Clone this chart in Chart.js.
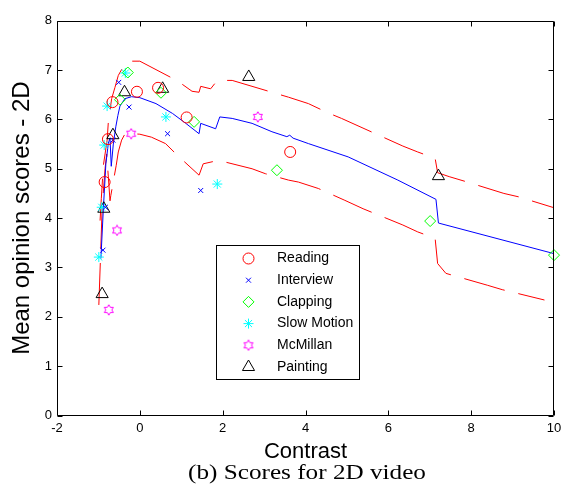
<!DOCTYPE html>
<html>
<head>
<meta charset="utf-8">
<script src="https://cdn.jsdelivr.net/npm/chart.js@4.4.0/dist/chart.umd.min.js"></script>
<style>
  html, body { margin: 0; padding: 0; background: #fff; }
  #wrap { position: relative; width: 562px; height: 496px; overflow: hidden; }
  #caption {
    position: absolute; left: 307px; top: 462px;
    font-family: "Liberation Serif", "Times New Roman", serif;
    font-size: 20px; line-height: 1; color: #000; white-space: nowrap;
    transform: translateX(-50%) scaleX(1.26);
  }
</style>
</head>
<body>
<div id="wrap">
  <canvas id="chart" width="562" height="496"></canvas>
  <div id="caption">(b) Scores for 2D video</div>
</div>
<script>
// Subjective scores per test sequence (contrast vs. mean opinion score)
const readingX = [-0.85, -0.77, -0.66, -0.07, 0.44, 1.13, 3.63];
const readingY = [4.73, 5.60, 6.35, 6.56, 6.64, 6.04, 5.34];

const interviewX = [-0.89, -0.83, -0.65, -0.51, -0.26, 0.67, 1.47];
const interviewY = [3.35, 4.22, 5.58, 6.75, 6.25, 5.71, 4.56];

const clappingX = [-0.48, -0.29, 0.51, 1.31, 3.31, 7.01, 10.0];
const clappingY = [6.40, 6.95, 6.54, 5.95, 4.97, 3.94, 3.25];

const slowMotionX = [-0.99, -0.92, -0.86, -0.79, -0.35, 0.63, 1.87];
const slowMotionY = [3.21, 4.22, 5.48, 6.27, 6.94, 6.05, 4.69];

const mcmillanX = [-0.75, -0.55, -0.21, 2.85];
const mcmillanY = [2.14, 3.75, 5.71, 6.05];

const paintingX = [-0.91, -0.87, -0.65, -0.37, 0.55, 2.63, 7.21];
const paintingY = [2.46, 4.19, 5.68, 6.55, 6.62, 6.86, 4.85];

// Fitted mean score curve
const fitX = [-0.94, -0.88, -0.82, -0.76, -0.72, -0.69, -0.64, -0.58, -0.53, -0.48, -0.36, -0.2, 0,
  0.39, 0.79, 1.11, 1.43, 1.47, 1.83, 1.93, 2.23, 2.71, 3.19, 3.55, 3.62, 3.7, 4.07, 5.03, 6.23,
  7.15, 7.21, 10.0];
const fitY = [3.18, 4.2, 5.1, 5.52, 5.62, 5.05, 5.5, 5.85, 6.08, 6.27, 6.42, 6.46, 6.44,
  6.32, 6.12, 5.92, 5.71, 5.92, 5.81, 6.05, 6.02, 5.92, 5.75, 5.65, 5.68, 5.62, 5.51, 5.24, 4.77,
  4.38, 3.9, 3.28];

// Upper and lower confidence bounds
const upperX = [-0.96, -0.93, -0.88, -0.79, -0.76, -0.68, -0.6, -0.52, -0.36, -0.2, 0, 0.91, 1.26,
  1.43, 1.47, 1.71, 1.87, 2.23, 3.19, 3.59, 4.07, 4.55, 4.87, 6.35, 6.71, 7.13, 7.19, 7.47, 7.83,
  8.79, 9.15, 10.0];
const upperY = [3.95, 4.4, 5.07, 5.58, 5.95, 6.42, 6.65, 6.89, 7.13, 7.18, 7.18, 6.78, 6.57,
  6.55, 6.67, 6.62, 6.79, 6.79, 6.55, 6.45, 6.32, 6.13, 6.02, 5.46, 5.34, 5.21, 4.92, 4.84, 4.75,
  4.5, 4.43, 4.21];

const lowerX = [-0.99, -0.95, -0.91, -0.84, -0.8, -0.72, -0.7, -0.57, -0.52, -0.44, -0.35, 0, 0.28,
  0.62, 0.91, 1.43, 1.53, 1.9, 2.71, 3.03, 3.59, 3.83, 4.31, 4.95, 5.39, 6.35, 6.71, 7.13, 7.19,
  7.39, 8.39, 8.75, 9.77];
const lowerY = [2.24, 3.2, 4.2, 5.0, 5.3, 4.35, 4.46, 5.07, 5.34, 5.58, 5.72, 5.7, 5.64,
  5.51, 5.27, 4.87, 5.1, 5.17, 5.0, 4.9, 4.77, 4.73, 4.6, 4.36, 4.19, 3.86, 3.72, 3.59, 3.08,
  2.88, 2.64, 2.55, 2.34];

const xTicks = { min: -2, max: 10, step: 2 };
const yTicks = { min: 0, max: 8, step: 1 };

const FONT = '"Liberation Sans", Arial, Helvetica, sans-serif';

const toPoints = (xs, ys) => xs.map((x, i) => ({ x: x, y: ys[i] }));

// six-pointed star outline used for the McMillan marker
function makeHexagram(size, color) {
  const c = document.createElement('canvas');
  c.width = size;
  c.height = size;
  const g = c.getContext('2d');
  const cx = size / 2, cy = size / 2;
  const R = size / 2 - 0.8, r = R / Math.sqrt(3);
  g.strokeStyle = color;
  g.lineWidth = 1;
  g.beginPath();
  for (let k = 0; k < 12; k++) {
    const a = -Math.PI / 2 + k * Math.PI / 6;
    const rad = k % 2 === 0 ? R : r;
    const px = cx + rad * Math.cos(a), py = cy + rad * Math.sin(a);
    if (k === 0) g.moveTo(px, py); else g.lineTo(px, py);
  }
  g.closePath();
  g.stroke();
  return c;
}

const hexagram = makeHexagram(12, '#ff00ff');

function markerSet(label, xs, ys, color, style, radius) {
  return {
    label: label,
    data: toPoints(xs, ys),
    showLine: false,
    pointStyle: style,
    pointRadius: radius,
    pointHoverRadius: radius,
    pointBorderColor: color,
    pointBackgroundColor: 'rgba(0,0,0,0)',
    pointBorderWidth: 1,
    borderColor: color,
    clip: false
  };
}

function curveSet(label, xs, ys, color, dash) {
  return {
    label: label,
    data: toPoints(xs, ys),
    showLine: true,
    pointRadius: 0,
    borderColor: color,
    borderWidth: 1,
    borderDash: dash,
    tension: 0,
    fill: false,
    isCurve: true
  };
}

// box around the plot with inward ticks on all four sides
const axesBox = {
  id: 'axesBox',
  afterDatasetsDraw(chart) {
    const { ctx, chartArea: a, scales } = chart;
    const l = Math.round(a.left) + 0.5, r = Math.round(a.right) - 0.5;
    const t = Math.round(a.top) + 0.5, b = Math.round(a.bottom) - 0.5;
    const len = 5;
    ctx.save();
    ctx.strokeStyle = '#000';
    ctx.lineWidth = 1;
    ctx.beginPath();
    ctx.rect(l, t, r - l, b - t);
    scales.x.ticks.forEach((tk) => {
      const px = Math.round(scales.x.getPixelForValue(tk.value)) + 0.5;
      ctx.moveTo(px, b); ctx.lineTo(px, b - len);
      ctx.moveTo(px, t); ctx.lineTo(px, t + len);
    });
    scales.y.ticks.forEach((tk) => {
      const py = Math.round(scales.y.getPixelForValue(tk.value)) + 0.5;
      ctx.moveTo(l, py); ctx.lineTo(l + len, py);
      ctx.moveTo(r, py); ctx.lineTo(r - len, py);
    });
    ctx.stroke();
    ctx.restore();
  }
};

// boxed legend inside the plot area, markers only
const markerLegend = {
  id: 'markerLegend',
  afterDraw(chart) {
    const ctx = chart.ctx;
    const box = { left: 216.5, top: 245.5, width: 143, height: 134 };
    const rowTop = 258.5, rowStep = 21.7;
    ctx.save();
    ctx.fillStyle = '#fff';
    ctx.strokeStyle = '#000';
    ctx.lineWidth = 1;
    ctx.fillRect(box.left, box.top, box.width, box.height);
    ctx.strokeRect(box.left, box.top, box.width, box.height);
    ctx.font = '14px ' + FONT;
    ctx.textBaseline = 'middle';
    ctx.textAlign = 'left';
    chart.data.datasets.filter((d) => !d.isCurve).forEach((d, i) => {
      const y = rowTop + i * rowStep;
      ctx.strokeStyle = d.pointBorderColor;
      ctx.fillStyle = 'rgba(0,0,0,0)';
      ctx.lineWidth = 1;
      Chart.helpers.drawPoint(ctx, {
        pointStyle: d.pointStyle,
        radius: d.pointRadius,
        rotation: 0,
        borderWidth: 1
      }, 248.5, y);
      ctx.fillStyle = '#000';
      ctx.fillText(d.label, 277, y);
    });
    ctx.restore();
  }
};

const ctx = document.getElementById('chart').getContext('2d');

new Chart(ctx, {
  type: 'scatter',
  data: {
    datasets: [
      markerSet('Reading', readingX, readingY, '#ff0000', 'circle', 5.5),
      markerSet('Interview', interviewX, interviewY, '#0000ff', 'crossRot', 3.5),
      markerSet('Clapping', clappingX, clappingY, '#00ff00', 'rectRot', 5.5),
      markerSet('Slow Motion', slowMotionX, slowMotionY, '#00ffff', 'star', 5),
      markerSet('McMillan', mcmillanX, mcmillanY, '#ff00ff', hexagram, 5),
      markerSet('Painting', paintingX, paintingY, '#000000', 'triangle', 7),
      curveSet('Fit', fitX, fitY, '#0000ff', []),
      curveSet('Upper bound', upperX, upperY, '#ff0000', [42, 14]),
      curveSet('Lower bound', lowerX, lowerY, '#ff0000', [42, 14])
    ]
  },
  options: {
    responsive: false,
    animation: false,
    devicePixelRatio: 1,
    layout: { padding: { top: 20.7, right: 4, bottom: 0, left: 0 } },
    plugins: {
      legend: { display: false },
      tooltip: { enabled: false }
    },
    scales: {
      x: {
        type: 'linear',
        min: xTicks.min,
        max: xTicks.max,
        ticks: {
          stepSize: xTicks.step,
          color: '#000',
          font: { family: FONT, size: 13 },
          padding: 5,
          maxRotation: 0,
          autoSkip: false
        },
        grid: { display: false, drawTicks: false },
        border: { display: false },
        title: {
          display: true,
          text: 'Contrast',
          color: '#000',
          font: { family: FONT, size: 22 },
          padding: { top: 0, bottom: 31 }
        },
        afterFit(s) {
          s.height = 80.5;
          s.paddingLeft = 0;
          s.paddingRight = 0;
        }
      },
      y: {
        type: 'linear',
        min: yTicks.min,
        max: yTicks.max,
        ticks: {
          stepSize: yTicks.step,
          color: '#000',
          font: { family: FONT, size: 13 },
          padding: 5
        },
        grid: { display: false, drawTicks: false },
        border: { display: false },
        title: {
          display: true,
          text: 'Mean opinion scores - 2D',
          color: '#000',
          font: { family: FONT, size: 24 },
          padding: { top: 8, bottom: 0 }
        },
        afterFit(s) {
          s.width = 57;
          s.paddingTop = 0;
          s.paddingBottom = 0;
        }
      }
    }
  },
  plugins: [axesBox, markerLegend]
});
</script>
</body>
</html>
